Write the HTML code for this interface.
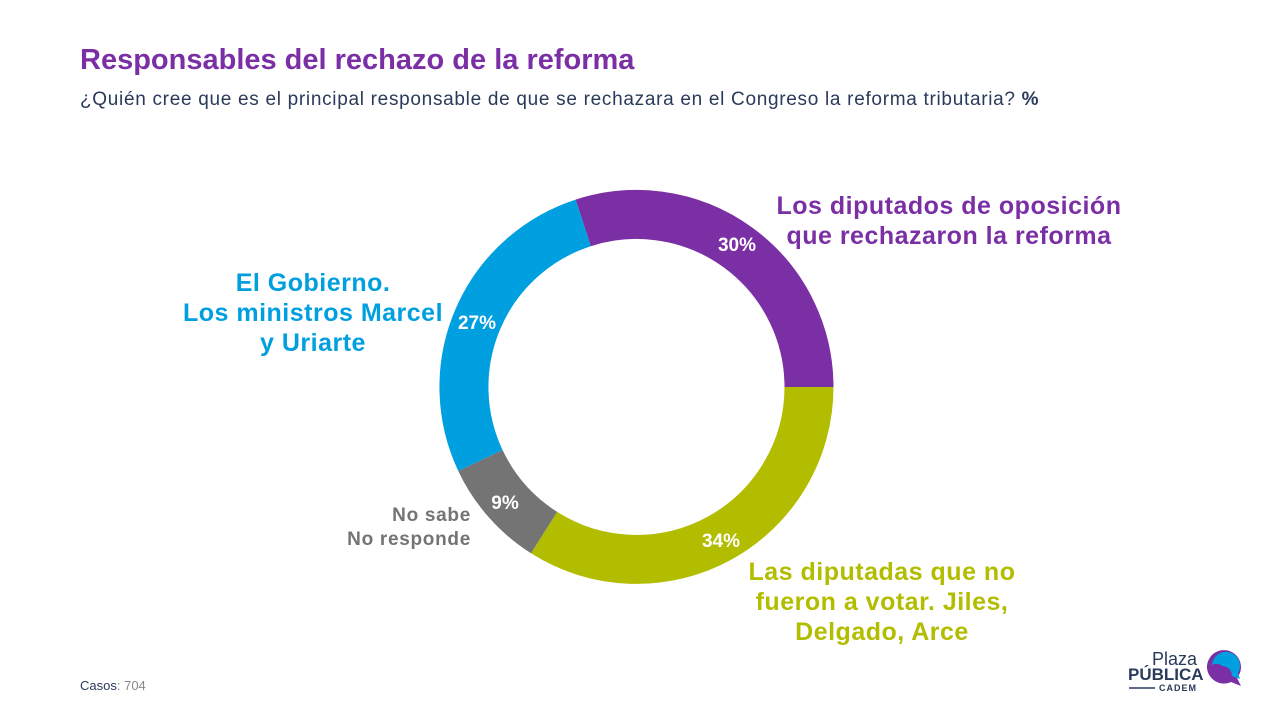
<!DOCTYPE html>
<html><head><meta charset="utf-8"><style>
body{margin:0;width:1274px;height:711px;background:#fff;position:relative;overflow:hidden;font-family:"Liberation Sans",sans-serif}
.a{position:absolute;white-space:nowrap}
.l{letter-spacing:0.5px;font-size:25px}
</style></head><body>
<div class="a" style="left:80px;top:44px;font-size:29px;font-weight:bold;color:#7b2fa5">Responsables del rechazo de la reforma</div>
<div class="a" style="left:80px;top:89px;font-size:19px;color:#2a3a5a;letter-spacing:0.7px">¿Quién cree que es el principal responsable de que se rechazara en el Congreso la reforma tributaria? <b>%</b></div>
<svg class="a" style="left:0;top:0" width="1274" height="711">
<g fill="none" stroke-width="49">
<path d="M583.2 222.9 A172.5 172.5 0 0 1 809 387" stroke="#7b2fa5"/>
<path d="M809 387 A172.5 172.5 0 0 1 544.1 532.6" stroke="#b3bd00"/>
<path d="M544.1 532.6 A172.5 172.5 0 0 1 480.4 460.5" stroke="#747474"/>
<path d="M480.4 460.5 A172.5 172.5 0 0 1 583.2 222.9" stroke="#009fdf"/>
</g>
<g fill="#fff" font-weight="bold" font-size="19" text-anchor="middle" font-family="Liberation Sans,sans-serif">
<text x="737" y="251">30%</text><text x="721" y="547">34%</text><text x="505" y="509">9%</text><text x="477" y="329">27%</text>
</g>
<path d="M1207 668 a17 17 0 1 1 30 10 l4 8 l-10 -4 a17 17 0 0 1 -24 -14z" fill="#7b2fa5"/>
<path d="M1212 665 a14 14 0 1 1 26 8 l2 6 l-8 -3 a10 10 0 0 0 -10 -10 a8 8 0 0 0 -10 -1z" fill="#009fdf"/>
<line x1="1129" y1="688" x2="1155" y2="688" stroke="#2a3a5a" stroke-width="1.5"/>
</svg>
<div class="a l" style="left:760px;top:191px;width:378px;font-weight:bold;color:#7b2fa5;text-align:center;line-height:30px">Los diputados de oposición<br>que rechazaron la reforma</div>
<div class="a l" style="left:170px;top:268px;font-weight:bold;color:#009fdf;text-align:center;line-height:30px;width:286px">El Gobierno.<br>Los ministros Marcel<br>y Uriarte</div>
<div class="a" style="left:300px;top:504px;font-size:19px;font-weight:bold;color:#747474;text-align:right;line-height:24px;width:171px;letter-spacing:0.7px">No sabe<br>No responde</div>
<div class="a l" style="left:730px;top:557px;font-weight:bold;color:#b3bd00;text-align:center;line-height:30px;width:304px">Las diputadas que no<br>fueron a votar. Jiles,<br>Delgado, Arce</div>
<div class="a" style="left:80px;top:678px;font-size:13px;color:#2a3a5a">Casos<span style="color:#888">: 704</span></div>
<div class="a" style="left:1152px;top:649px;font-size:18px;color:#2a3a5a">Plaza</div>
<div class="a" style="left:1128px;top:665px;font-size:17px;font-weight:bold;color:#2a3a5a">PÚBLICA</div>
<div class="a" style="left:1159px;top:683px;font-size:9px;font-weight:bold;color:#2a3a5a;letter-spacing:1px">CADEM</div>
</body></html>
